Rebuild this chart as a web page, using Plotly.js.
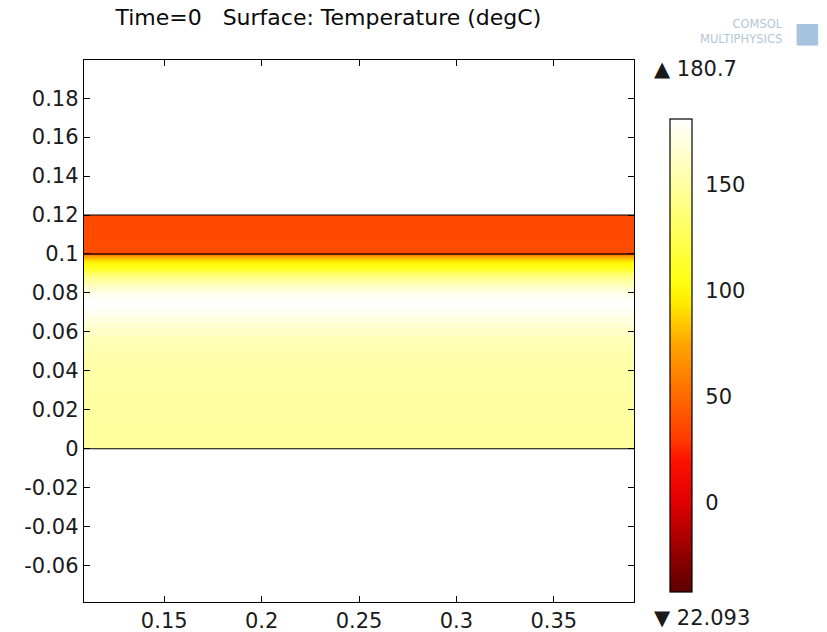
<!DOCTYPE html>
<html>
<head>
<meta charset="utf-8">
<script src="https://cdn.plot.ly/plotly-3.0.1.min.js"></script>
<style>html,body{margin:0;padding:0;background:#fff;}#chart{width:827px;height:632px;}</style>
</head>
<body>
<div id="chart"></div>
<script>
// Geometry of the sampled strip (x extent of the domain)
const xEdges = [0.1, 0.4];

// Lower layer: row edges (m) and temperatures (degC)
const lowerEdges = [0, 0.005, 0.01, 0.015, 0.02, 0.025, 0.03, 0.035, 0.04, 0.045, 0.05,
  0.054, 0.058, 0.062, 0.065, 0.068, 0.071, 0.073, 0.075, 0.077, 0.079, 0.081, 0.083,
  0.085, 0.087, 0.089, 0.091, 0.092, 0.093, 0.094, 0.095, 0.096, 0.097, 0.098, 0.099,
  0.0995, 0.1];
const lowerTemps = [148, 149, 149, 150, 150, 150, 151, 151, 152, 153,
  155, 158, 162, 166, 171, 176, 179, 180.5, 180, 177, 172, 166,
  158, 150, 140, 128, 118, 112, 106, 102, 98, 92, 84, 74, 62, 52];

// Upper layer: row edges and temperatures
const upperEdges = [0.1, 0.105, 0.11, 0.115, 0.12];
const upperTemps = [38, 37, 37, 36];

// Layer boundaries drawn as black lines
const layerBounds = [0, 0.1, 0.12];

// Colour range and labels
const colorMin = -42;
const colorMax = 180.7;
const maxLabel = "180.7";
const minLabel = "22.093";
const cbTicks = [0, 50, 100, 150];
const xTicks = [0.15, 0.2, 0.25, 0.3, 0.35];
const yTicks = [-0.06, -0.04, -0.02, 0, 0.02, 0.04, 0.06, 0.08, 0.1, 0.12, 0.14, 0.16, 0.18];

const hotScale = [
  [0.0, '#5c0000'],
  [0.099, '#a00000'],
  [0.189, '#e00000'],
  [0.278, '#ff1000'],
  [0.323, '#ff3a00'],
  [0.413, '#ff6800'],
  [0.525, '#ffa500'],
  [0.615, '#ffee00'],
  [0.66, '#ffff14'],
  [0.77, '#ffff62'],
  [0.862, '#ffffa2'],
  [1.0, '#ffffff']
];

function col(arr) { return arr.map(v => [v]); }

const tickFont = {family: 'DejaVu Sans', size: 21, color: '#1a1a1a'};

const common = {
  type: 'heatmap',
  x: xEdges,
  colorscale: hotScale,
  zmin: colorMin,
  zmax: colorMax,
  zsmooth: false,
  hoverinfo: 'skip'
};

const traces = [
  Object.assign({}, common, {
    y: lowerEdges, z: col(lowerTemps),
    showscale: true,
    colorbar: {
      x: 1.0655, xanchor: 'left', xref: 'paper', xpad: 0,
      y: 0.4548, yanchor: 'middle', ypad: 0,
      len: 0.8727, lenmode: 'fraction',
      thickness: 22, thicknessmode: 'pixels',
      outlinecolor: '#000', outlinewidth: 1.2,
      tickvals: cbTicks, ticks: 'outside', ticklen: 9, tickcolor: 'rgba(0,0,0,0)',
      tickfont: tickFont
    }
  }),
  Object.assign({}, common, {
    y: upperEdges, z: col(upperTemps),
    showscale: false
  })
];

const shapes = layerBounds.map((b, i) => ({
  type: 'line', xref: 'paper', x0: 0, x1: 1, yref: 'y', y0: b, y1: b,
  line: {color: i === 1 ? '#2a0a00' : '#000', width: i === 1 ? 1.6 : 1.2}
}));

const layout = {
  width: 827, height: 632,
  margin: {l: 84, r: 193, t: 60, b: 30, pad: 0},
  paper_bgcolor: '#fff', plot_bgcolor: '#fff',
  showlegend: false,
  title: {
    text: 'Time=0   Surface: Temperature (degC)',
    font: {family: 'DejaVu Sans', size: 22, color: '#0a0a0a'},
    x: 0.397, xanchor: 'center', xref: 'container',
    y: 0.972, yanchor: 'middle', yref: 'container'
  },
  xaxis: {
    range: [0.1088, 0.3912],
    tickvals: xTicks, ticktext: xTicks.map(String),
    ticks: 'inside', ticklen: 6, tickcolor: '#000',
    showline: true, linecolor: '#000', linewidth: 1.2, mirror: 'ticks',
    showgrid: false, zeroline: false,
    tickfont: tickFont
  },
  yaxis: {
    range: [-0.0787, 0.1996],
    tickvals: yTicks, ticktext: yTicks.map(String),
    ticks: 'inside', ticklen: 6, tickcolor: '#000',
    showline: true, linecolor: '#000', linewidth: 1.2, mirror: 'ticks',
    showgrid: false, zeroline: false,
    tickfont: tickFont
  },
  shapes: shapes,
  annotations: [
    {text: '▲ ' + maxLabel, xref: 'paper', yref: 'paper', x: 1.0327, y: 0.983,
     xanchor: 'left', yanchor: 'middle', showarrow: false,
     font: tickFont},
    {text: '▼ ' + minLabel, xref: 'paper', yref: 'paper', x: 1.0327, y: -0.0295,
     xanchor: 'left', yanchor: 'middle', showarrow: false,
     font: tickFont},
    {text: 'COMSOL<br>MULTIPHYSICS', xref: 'paper', yref: 'paper', x: 1.2745, y: 1.0535,
     xanchor: 'right', yanchor: 'middle', showarrow: false, align: 'right',
     font: {family: 'DejaVu Sans', size: 11.5, color: '#b4c6d8'}},
    {text: '■', xref: 'paper', yref: 'paper', x: 1.3145, y: 1.05,
     xanchor: 'center', yanchor: 'middle', showarrow: false,
     font: {family: 'DejaVu Sans', size: 28, color: '#a6c4e0'}}
  ]
};

Plotly.newPlot('chart', traces, layout, {displayModeBar: false, staticPlot: true});
</script>
</body>
</html>
